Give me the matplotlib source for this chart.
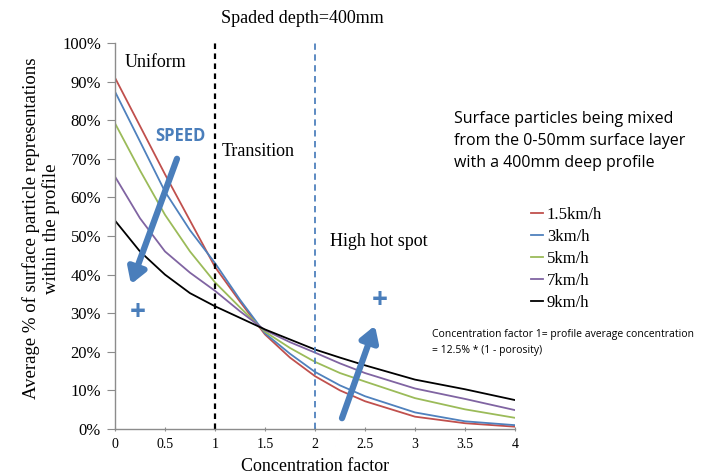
import matplotlib
matplotlib.use("Agg")
import matplotlib.pyplot as plt
from matplotlib.ticker import FuncFormatter

x = [0, 0.25, 0.5, 0.75, 1, 1.25, 1.5, 1.75, 2, 2.25, 2.5, 3, 3.5, 4]
speed_labels = ["1.5km/h", "3km/h", "5km/h", "7km/h", "9km/h"]
v_15 = [91, 78.5, 66, 54, 42, 33, 24.5, 18.5, 13.7, 10, 7.2, 3.2, 1.5, 0.6]
v_3 = [87.4, 74.5, 61.5, 51.5, 43, 33.5, 24.8, 19.5, 14.8, 11.3, 8.5, 4.3, 2.0, 1.0]
v_5 = [79.2, 67, 55.5, 46, 38, 31.5, 25.2, 21, 17.4, 14.5, 12.3, 8, 5.1, 2.9]
v_7 = [65.4, 54.6, 46, 40.5, 35.8, 30.5, 25.6, 22.5, 19.8, 17, 14.5, 10.5, 7.8, 4.9]
v_9 = [54, 46, 40, 35.2, 31.8, 28.8, 25.8, 23.2, 20.6, 18.5, 16.5, 12.8, 10.3, 7.5]
series = [v_15, v_3, v_5, v_7, v_9]
colors = ["#C0504D", "#4F81BD", "#9BBB59", "#8064A2", "#000000"]
x_ticks = [0, 0.5, 1, 1.5, 2, 2.5, 3, 3.5, 4]
x_tick_labels = ["0", "0.5", "1", "1.5", "2", "2.5", "3", "3.5", "4"]
y_ticks = [0, 10, 20, 30, 40, 50, 60, 70, 80, 90, 100]

serif = ["Liberation Serif", "DejaVu Serif"]
sans = ["Open Sans", "DejaVu Sans"]
arrow_blue = "#4A7EBB"

fig = plt.figure(figsize=(7.25, 4.74), dpi=100)
ax = fig.add_axes([0.1586, 0.0949, 0.5517, 0.8144])

for vals, c, lab in zip(series, colors, speed_labels):
    ax.plot(x, vals, color=c, lw=1.3, label=lab)

ax.axvline(1, color="black", lw=1.6, ls=(0, (2.5, 2)))
ax.axvline(2, color="#4F81BD", lw=1.3, ls=(0, (3.5, 2.5)))

ax.set_xlim(0, 4)
ax.set_ylim(0, 100)
ax.set_xticks(x_ticks)
ax.set_xticklabels(x_tick_labels, fontfamily=serif, fontsize=10)
ax.set_yticks(y_ticks)
ax.yaxis.set_major_formatter(FuncFormatter(lambda v, p: f"{int(v)}%"))
for t in ax.get_yticklabels():
    t.set_fontfamily(serif)
    t.set_fontsize(12)
for s in ["top", "right"]:
    ax.spines[s].set_visible(False)
for s in ["left", "bottom"]:
    ax.spines[s].set_color("#8c8c8c")
    ax.spines[s].set_linewidth(1.0)
ax.tick_params(axis="y", length=6, color="#8c8c8c", pad=4)
ax.tick_params(axis="x", length=3, direction="inout", color="#8c8c8c", pad=5)

ax.set_xlabel("Concentration factor", fontfamily=serif, fontsize=13, labelpad=5)
ax.set_ylabel("Average % of surface particle representations\nwithin the profile",
              fontfamily=serif, fontsize=13.5, linespacing=1.15)
ax.yaxis.set_label_coords(-0.1375, 0.52)

ax.text(0.1, 95, "Uniform", fontfamily=serif, fontsize=13, va="center")
ax.text(1.07, 72, "Transition", fontfamily=serif, fontsize=13, va="center")
ax.text(2.15, 48.5, "High hot spot", fontfamily=serif, fontsize=13, va="center")
fig.text(0.4166, 0.962, "Spaded depth=400mm", fontfamily=serif, fontsize=13,
         ha="center", va="center")

ax.text(0.4, 76, "SPEED", fontfamily=sans, fontsize=12, fontweight="bold",
        color=arrow_blue, va="center")
ax.annotate("", xy=(0.16, 37.5), xytext=(0.62, 70),
            arrowprops=dict(arrowstyle="-|>,head_length=0.9,head_width=0.55",
                            color=arrow_blue, lw=4.5, shrinkA=0, shrinkB=0))
ax.annotate("", xy=(2.6, 26.8), xytext=(2.27, 2.8),
            arrowprops=dict(arrowstyle="-|>,head_length=0.9,head_width=0.55",
                            color=arrow_blue, lw=4.5, shrinkA=0, shrinkB=0))
ax.text(0.23, 30.3, "+", fontfamily=sans, fontsize=20, fontweight="bold",
        color=arrow_blue, ha="center", va="center")
ax.text(2.65, 33.4, "+", fontfamily=sans, fontsize=20, fontweight="bold",
        color=arrow_blue, ha="center", va="center")

fig.text(0.6262, 0.703, "Surface particles being mixed\nfrom the 0-50mm surface layer\nwith a 400mm deep profile",
         fontfamily=sans, fontsize=11.5, va="center", ha="left", linespacing=1.5)

leg = ax.legend(loc="upper left", bbox_to_anchor=(1.0025, 0.614), frameon=False,
                handlelength=0.75, handletextpad=0.2, labelspacing=0.36,
                prop={"family": serif, "size": 12})

fig.text(0.5955, 0.278, "Concentration factor 1= profile average concentration\n= 12.5% * (1 - porosity)",
         fontfamily=sans, fontsize=7.5, va="center", ha="left", linespacing=1.6)

fig.savefig("out.png", dpi=100)
